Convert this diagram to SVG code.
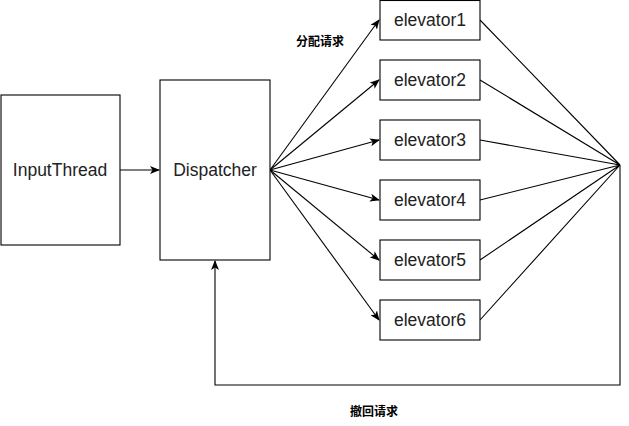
<svg xmlns="http://www.w3.org/2000/svg" width="629" height="426" viewBox="0 0 629 426">
<style>
.box{fill:#fff;stroke:#000;stroke-width:1.1}
.t{font-family:"Liberation Sans",Arial,sans-serif;font-size:17.5px;fill:#222;text-anchor:middle;dominant-baseline:central}
.lbl{font-family:"Noto Sans CJK SC",sans-serif;font-size:12px;font-weight:bold;fill:#000;text-anchor:middle;dominant-baseline:central}
.c{fill:none;stroke:#000;stroke-width:1.1}
</style>
<defs>
<marker id="a" viewBox="0 0 10 8" refX="9" refY="4" markerWidth="10" markerHeight="8" markerUnits="userSpaceOnUse" orient="auto">
<path d="M0,0 L10,4 L0,8 L2.5,4 Z" fill="#000"/>
</marker>
</defs>
<g id="connectors">
<path class="c" d="M120,170 L159,170" marker-end="url(#a)"/>
<path class="c" d="M270,170 L379,20" marker-end="url(#a)"/>
<path class="c" d="M270,170 L379,80" marker-end="url(#a)"/>
<path class="c" d="M270,170 L379,140" marker-end="url(#a)"/>
<path class="c" d="M270,170 L379,200" marker-end="url(#a)"/>
<path class="c" d="M270,170 L379,260" marker-end="url(#a)"/>
<path class="c" d="M270,170 L379,320" marker-end="url(#a)"/>
<path class="c" d="M480,20 L620,165 M480,80 L620,165 M480,140 L620,165 M480,200 L620,165 M480,260 L620,165 M480,320 L620,165"/>
<path class="c" d="M620,165 L620,385 L215,385 L215,261" marker-end="url(#a)"/>
<text class="lbl" x="320" y="40">分配请求</text>
<text class="lbl" x="374" y="410">撤回请求</text>
</g>
<g id="inputthread"><rect class="box" x="1" y="95" width="119" height="150"/><text class="t" x="60" y="170">InputThread</text></g>
<g id="dispatcher"><rect class="box" x="160" y="80" width="110" height="180"/><text class="t" x="215" y="170">Dispatcher</text></g>
<g id="elevator1"><rect class="box" x="380" y="0.5" width="100" height="39.5"/><text class="t" x="430" y="20">elevator1</text></g>
<g id="elevator2"><rect class="box" x="380" y="60" width="100" height="40"/><text class="t" x="430" y="80">elevator2</text></g>
<g id="elevator3"><rect class="box" x="380" y="120" width="100" height="40"/><text class="t" x="430" y="140">elevator3</text></g>
<g id="elevator4"><rect class="box" x="380" y="180" width="100" height="40"/><text class="t" x="430" y="200">elevator4</text></g>
<g id="elevator5"><rect class="box" x="380" y="240" width="100" height="40"/><text class="t" x="430" y="260">elevator5</text></g>
<g id="elevator6"><rect class="box" x="380" y="300" width="100" height="40"/><text class="t" x="430" y="320">elevator6</text></g>
</svg>
